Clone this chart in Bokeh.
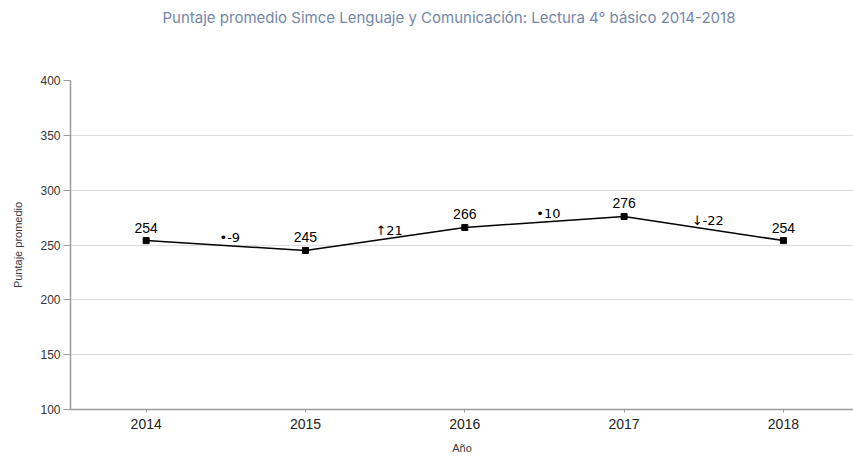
from bokeh.plotting import figure
from bokeh.models import ColumnDataSource, Range1d, FixedTicker, Title, LabelSet
from bokeh.core.properties import value
from bokeh.embed import file_html
from bokeh.resources import INLINE

years = [2014, 2015, 2016, 2017, 2018]
scores = [254, 245, 266, 276, 254]
score_labels = ["254", "245", "266", "276", "254"]
delta_labels = ["\u2022-9", "\u219121", "\u202210", "\u2193-22"]
y_ticks = [100, 150, 200, 250, 300, 350, 400]
title_text = "Puntaje promedio Simce Lenguaje y Comunicaci\u00f3n: Lectura 4\u00b0 b\u00e1sico 2014-2018"

mid_x = [(years[i] + years[i + 1]) / 2 for i in range(len(years) - 1)]
mid_y = [(scores[i] + scores[i + 1]) / 2 for i in range(len(scores) - 1)]

p = figure(width=853, height=456, output_backend="svg", toolbar_location=None,
           x_range=Range1d(2013.525, 2018.44), y_range=Range1d(100, 400),
           min_border_left=70, min_border_right=0, min_border_top=80, min_border_bottom=47)
p.outline_line_color = None
p.background_fill_color = "white"
p.border_fill_color = "white"
p.title.text = ""

# spacer between the frame and the title, then the title itself
p.add_layout(Title(text=" ", text_font_size="46px", standoff=0), "above")
p.add_layout(Title(text=title_text, align="left", offset=92, text_font="Inter",
                   text_font_size="15px", text_font_style="normal",
                   text_color="#7486a8", standoff=0), "above")

src = ColumnDataSource(dict(x=years, y=scores, t=score_labels))
dsrc = ColumnDataSource(dict(x=mid_x, y=mid_y, t=delta_labels))

p.line("x", "y", source=src, line_color="black", line_width=1.5)
p.scatter("x", "y", source=src, marker="square", size=6, color="black")

p.add_layout(LabelSet(x="x", y="y", text="t", source=src, text_align="center",
                      text_baseline="bottom", y_offset=8, text_font=value("Liberation Sans"),
                      text_font_size=value("14px"), text_color="black"))
p.add_layout(LabelSet(x="x", y="y", text="t", source=dsrc, text_align="center",
                      text_baseline="bottom", y_offset=1, x_offset=4, text_font=value("DejaVu Sans"),
                      text_font_size=value("13px"), text_color="black"))

p.yaxis.ticker = FixedTicker(ticks=y_ticks)
p.xaxis.ticker = FixedTicker(ticks=years)
p.xgrid.grid_line_color = None
p.ygrid.grid_line_color = "#dcdcdc"
p.ygrid.grid_line_width = 1

for ax in (p.xaxis[0], p.yaxis[0]):
    ax.axis_line_color = "#9a9a9a"
    ax.axis_line_width = 1.5
    ax.major_tick_line_color = "#9a9a9a"
    ax.minor_tick_line_color = None
    ax.axis_label_text_font = "Arial"
    ax.axis_label_text_font_style = "normal"
    ax.axis_label_text_font_size = "11px"
    ax.axis_label_text_color = "#3a3a3a"
    ax.major_label_text_font = "Arial"

p.yaxis.axis_label = "Puntaje promedio"
p.yaxis.major_tick_out = 7
p.yaxis.major_tick_in = 0
p.yaxis.major_label_standoff = 3
p.yaxis.major_label_text_font_size = "12px"
p.yaxis.major_label_text_color = "#333333"
p.yaxis.axis_label_standoff = 13

p.xaxis.axis_label = "A\u00f1o"
p.xaxis.major_tick_out = 3
p.xaxis.major_tick_in = 0
p.xaxis.major_label_standoff = 6
p.xaxis.major_label_text_font_size = "14px"
p.xaxis.major_label_text_color = "#222222"
p.xaxis.axis_label_standoff = 10

open("out.html", "w").write(file_html(p, INLINE))
